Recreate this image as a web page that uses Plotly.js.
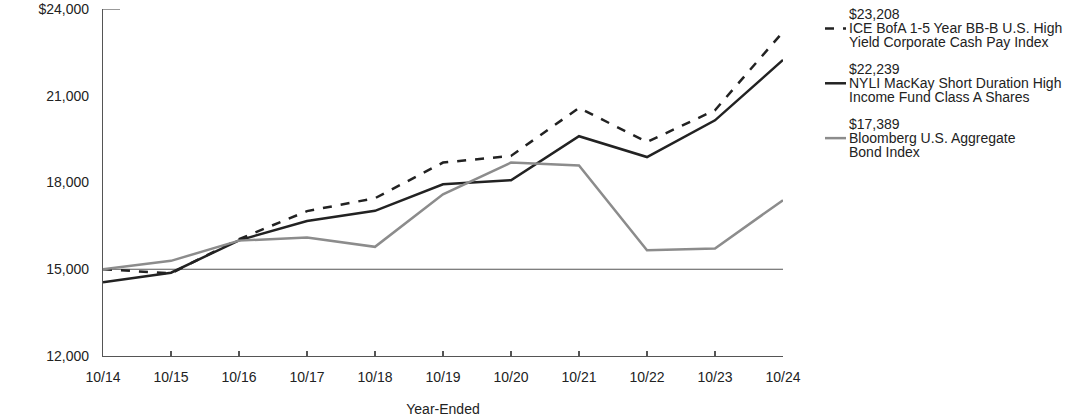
<!DOCTYPE html>
<html>
<head>
<meta charset="utf-8">
<script src="https://cdn.plot.ly/plotly-3.0.1.min.js"></script>
<style>html,body{margin:0;padding:0;background:#fff;}#chart{width:1092px;height:417px;}</style>
</head>
<body>
<div id="chart"></div>
<script>
// ---- data ----
const years = ["10/14","10/15","10/16","10/17","10/18","10/19","10/20","10/21","10/22","10/23","10/24"];
const iceIndex = [15000, 14860, 16040, 17010, 17456, 18690, 18920, 20580, 19400, 20500, 23208];
const nyliFund = [14550, 14880, 16000, 16670, 17020, 17940, 18080, 19600, 18880, 20150, 22239];
const bbgAgg   = [15000, 15290, 15990, 16100, 15775, 17590, 18690, 18590, 15660, 15720, 17389];
const seriesNames = ["ICE BofA 1-5 Year BB-B U.S. High Yield Corporate Cash Pay Index",
                     "NYLI MacKay Short Duration High Income Fund Class A Shares",
                     "Bloomberg U.S. Aggregate Bond Index"];
const legendLines = [
  ["$23,208", "ICE BofA 1-5 Year BB-B U.S. High", "Yield Corporate Cash Pay Index"],
  ["$22,239", "NYLI MacKay Short Duration High", "Income Fund Class A Shares"],
  ["$17,389", "Bloomberg U.S. Aggregate", "Bond Index"]
];
const yTickVals = [12000, 15000, 18000, 21000, 24000];
const yTickText = ["12,000", "15,000", "18,000", "21,000", "$24,000"];

// ---- layout geometry ----
const W = 1092, H = 417;
const L = 103, R = 783, T = 8.5, B = 356.5;
const pw = R - L, ph = B - T;
const px2x = p => (p - L) / pw;
const py2y = p => (B - p) / ph;

const styles = [
  {color: "#222222", width: 2.5, dash: "dash"},
  {color: "#222222", width: 2.5, dash: "solid"},
  {color: "#8c8c8c", width: 2.5, dash: "solid"}
];
const allSeries = [iceIndex, nyliFund, bbgAgg];

const traces = allSeries.map((s, i) => ({
  x: years, y: s, type: "scatter", mode: "lines",
  name: seriesNames[i], line: styles[i], showlegend: false,
  hoverinfo: "x+y"
}));

const font = {family: "Liberation Sans, Arial, sans-serif", size: 14, color: "#222"};

const annotations = [];
const shapes = [];
// legend
const blockTop = [14, 69, 124];
const lineStep = 14;
legendLines.forEach((lines, i) => {
  lines.forEach((t, j) => {
    annotations.push({
      xref: "paper", yref: "paper", x: px2x(847), y: py2y(blockTop[i] + j * lineStep),
      xanchor: "left", yanchor: "middle", text: t, showarrow: false, font: font
    });
  });
  shapes.push({
    type: "line", xref: "paper", yref: "paper",
    x0: px2x(825), x1: px2x(846), y0: py2y(blockTop[i] + lineStep), y1: py2y(blockTop[i] + lineStep),
    line: {color: styles[i].color, width: 2.5, dash: styles[i].dash === "dash" ? "dash" : "solid"}
  });
});
// reference line at 15,000
shapes.push({type: "line", xref: "paper", yref: "y", x0: 0, x1: 1, y0: 15000, y1: 15000,
  line: {color: "#555", width: 1.2}, layer: "below"});
// short top tick at 24,000
shapes.push({type: "line", xref: "paper", yref: "y", x0: 0, x1: px2x(120), y0: 24000, y1: 24000,
  line: {color: "#555", width: 1.2}});

const layout = {
  width: W, height: H,
  margin: {l: L, r: W - R, t: T, b: H - B, pad: 0},
  paper_bgcolor: "#fff", plot_bgcolor: "#fff",
  font: font,
  showlegend: false,
  xaxis: {
    type: "category", range: [0, years.length - 1],
    showgrid: false, zeroline: false,
    showline: true, linecolor: "#555", linewidth: 1.2,
    ticks: "inside", ticklen: 5, tickcolor: "#555", tickwidth: 1.2,
    tickfont: font, ticklabelstandoff: 8,
    title: {text: "Year-Ended", font: font, standoff: 20},
    fixedrange: true
  },
  yaxis: {
    range: [12000, 24000],
    tickvals: yTickVals, ticktext: yTickText,
    showgrid: false, zeroline: false,
    showline: true, linecolor: "#555", linewidth: 1.2,
    ticks: "", ticklabelstandoff: 10,
    tickfont: font,
    fixedrange: true
  },
  annotations: annotations,
  shapes: shapes
};

Plotly.newPlot("chart", traces, layout, {displayModeBar: false, staticPlot: true});
</script>
</body>
</html>
